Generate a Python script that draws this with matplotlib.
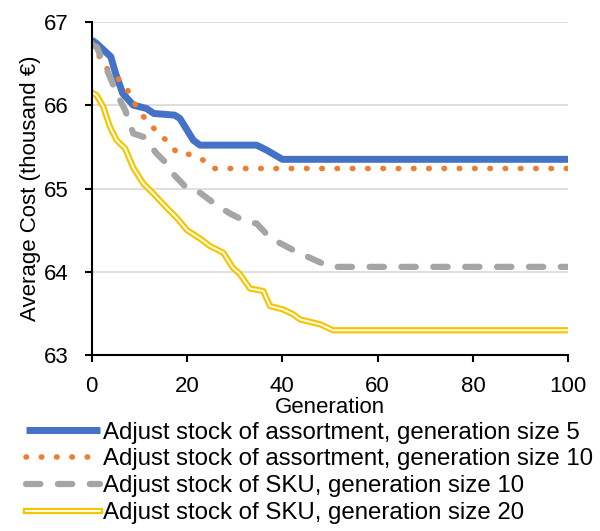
import matplotlib.pyplot as plt
from matplotlib.legend_handler import HandlerTuple

plt.rcParams['font.family'] = ['Liberation Sans', 'DejaVu Sans']

# values (generation, average cost in thousand EUR)
gen_a5 = [0, 1, 4, 5, 6.5, 8.7, 11.5, 13, 17.4, 18.5, 21.3, 22.7, 34.6, 36.7, 40, 100]
cost_a5 = [66.78, 66.74, 66.58, 66.38, 66.14, 66.0, 65.96, 65.9, 65.88, 65.84, 65.58, 65.52,
           65.52, 65.46, 65.35, 65.35]

gen_a10 = [0, 1, 2.4, 7, 8.4, 10, 11.8, 14, 16, 18, 20.4, 23.4, 25.5, 100]
cost_a10 = [66.75, 66.66, 66.48, 66.24, 66.08, 65.92, 65.8, 65.66, 65.56, 65.42, 65.41, 65.34,
            65.24, 65.24]

gen_s10 = [0, 1, 3.8, 5.2, 7, 8.7, 10.8, 13.6, 15.7, 17, 20, 22.7, 26.2, 29, 32.5, 34.6,
           37.4, 40, 43, 47.3, 50, 100]
cost_s10 = [66.72, 66.7, 66.34, 66.14, 65.94, 65.66, 65.62, 65.42, 65.3, 65.18, 65.0, 64.95,
            64.8, 64.7, 64.6, 64.58, 64.41, 64.33, 64.24, 64.13, 64.06, 64.06]

gen_s20 = [0, 1, 2.4, 3.8, 5.2, 7, 8.7, 10.8, 12.9, 15.7, 17.8, 20, 22.7, 24.8, 27.6, 29.6,
           31, 33.2, 36, 37.4, 40.1, 42.3, 43.7, 48, 50.6, 100]
cost_s20 = [66.15, 66.12, 65.98, 65.74, 65.58, 65.48, 65.25, 65.06, 64.94, 64.77, 64.65, 64.5,
            64.4, 64.31, 64.23, 64.05, 63.98, 63.8, 63.77, 63.59, 63.55, 63.49, 63.43, 63.37,
            63.3, 63.3]

labels = ['Adjust stock of assortment, generation size 5',
          'Adjust stock of assortment, generation size 10',
          'Adjust stock of SKU, generation size 10',
          'Adjust stock of SKU, generation size 20']

fig = plt.figure(figsize=(6, 5.31), dpi=100)
ax = fig.add_axes([0.153, 0.331, 0.794, 0.628])

l1, = ax.plot(gen_a5, cost_a5, color='#4472C4', lw=5, solid_capstyle='butt')
l2, = ax.plot(gen_a10, cost_a10, color='#ED7D31', lw=4, linestyle=(0, (0.1, 2.65)),
              dash_capstyle='round')
l3, = ax.plot(gen_s10, cost_s10, color='#A5A5A5', lw=4.5, linestyle=(0, (2.3, 2.8)),
              dash_capstyle='round')
l4a, = ax.plot(gen_s20, cost_s20, color='#F5C400', lw=4.5)
l4b, = ax.plot(gen_s20, cost_s20, color='#FFFBE0', lw=1.5)

ax.set_xlim(0, 100)
ax.set_ylim(63, 67)
ax.set_xticks(range(0, 101, 20))
ax.set_yticks(range(63, 68))
ax.grid(axis='y', color='#D9D9D9', linewidth=1.2)
ax.set_axisbelow(True)
for s in ['top', 'right']:
    ax.spines[s].set_visible(False)
for s in ['left', 'bottom']:
    ax.spines[s].set_linewidth(1.5)
ax.tick_params(axis='both', direction='out', length=5, width=1.5, labelsize=16)
ax.tick_params(axis='y', pad=12)
ax.tick_params(axis='x', pad=10)
ax.set_xlabel('Generation', fontsize=16, labelpad=0)
ax.set_ylabel('Average Cost (thousand €)', fontsize=16, labelpad=2)

fig.legend([l1, l2, l3, (l4a, l4b)], labels, loc='upper left',
           bbox_to_anchor=(0.043, 0.206), frameon=False, fontsize=17.3,
           handlelength=3.08, handletextpad=0.13, labelspacing=0.2,
           borderaxespad=0, borderpad=0,
           handler_map={tuple: HandlerTuple(ndivide=1)})

fig.savefig('out.png', dpi=100)
